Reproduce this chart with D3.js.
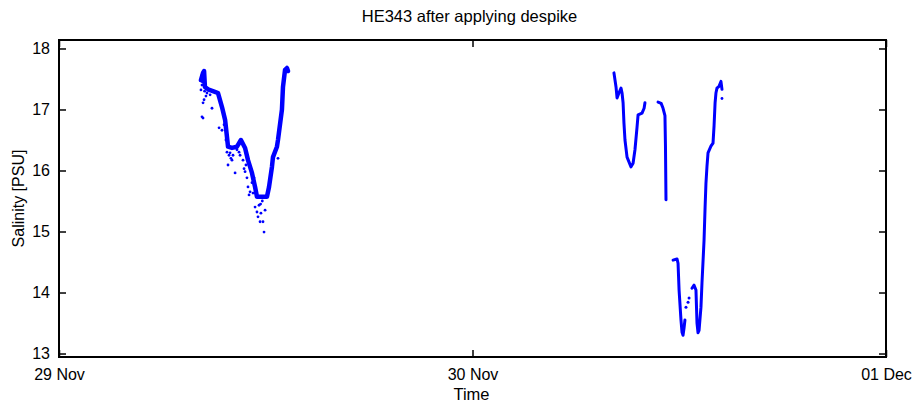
<!DOCTYPE html>
<html>
<head>
<meta charset="utf-8">
<script src="https://cdn.jsdelivr.net/npm/d3@7"></script>
<style>
  body { margin: 0; background: #fff; }
  text { font-family: "Liberation Sans", Arial, sans-serif; fill: #000; }
</style>
</head>
<body>
<svg id="chart" width="918" height="403"></svg>
<script>
// ---- data (hours after 29 Nov 00:00, salinity PSU) ----
const startDate = Date.UTC(2009, 10, 29);
const xTickDates = ["2009-11-29", "2009-11-30", "2009-12-01"];
const xTickLabels = ["29 Nov", "30 Nov", "01 Dec"];
const yTicks = [13, 14, 15, 16, 17, 18];

// first cluster main trace
const trace1Hours = [8.24, 8.36, 8.42, 8.47, 8.65, 9.05, 9.23, 9.46, 9.64, 9.75, 9.81, 10.04, 10.33, 10.56, 10.80, 10.97, 11.20, 11.38, 11.49, 11.78, 12.07, 12.19, 12.36, 12.42, 12.65, 12.71, 12.94, 13.00, 13.12, 13.23, 13.29];
const trace1Sal   = [17.48, 17.60, 17.63, 17.37, 17.33, 17.29, 17.27, 17.04, 16.83, 16.55, 16.39, 16.37, 16.39, 16.50, 16.37, 16.17, 15.96, 15.73, 15.57, 15.57, 15.57, 15.73, 16.06, 16.22, 16.39, 16.50, 17.00, 17.37, 17.65, 17.68, 17.63];

// first cluster scattered samples
const spikeHours = [8.30, 8.36, 8.36, 8.42, 8.53, 8.88, 9.29, 9.46, 9.81, 9.93, 10.04, 10.22, 10.33, 10.80, 10.91, 10.97, 11.09, 11.20, 11.26, 11.38, 11.49, 11.55, 11.67, 11.84, 11.90, 11.96, 12.71, 10.68, 10.85, 11.14, 11.32, 10.51, 10.74, 11.03, 11.61, 11.72, 9.69, 9.58, 8.77, 8.59, 8.30, 8.24, 9.87, 10.10, 8.27, 8.33, 8.45, 9.75, 9.98, 10.45, 11.70, 11.80];
const spikeSal   = [16.88, 16.86, 17.11, 17.16, 17.22, 17.02, 16.70, 16.66, 16.09, 16.29, 16.17, 15.96, 16.34, 15.98, 15.88, 15.73, 15.65, 15.80, 15.63, 15.40, 15.32, 15.24, 15.16, 15.16, 14.99, 15.35, 16.20, 16.17, 16.09, 16.01, 15.88, 16.25, 16.03, 15.60, 15.43, 15.30, 16.50, 16.75, 17.24, 17.27, 17.40, 17.32, 16.25, 16.25, 17.55, 17.45, 17.30, 16.30, 16.20, 16.30, 15.45, 15.50];

// second cluster segments
const segAHours = [32.21, 32.33, 32.39, 32.50, 32.62, 32.68, 32.74, 32.79, 32.85, 32.97, 33.20, 33.32, 33.43, 33.55, 33.61, 33.84, 33.96, 34.01];
const segASal   = [17.60, 17.37, 17.19, 17.27, 17.35, 17.27, 17.11, 16.78, 16.50, 16.22, 16.06, 16.12, 16.34, 16.71, 16.91, 16.94, 17.02, 17.11];
const segBHours = [34.77, 34.95, 35.06, 35.17, 35.20, 35.23];
const segBSal   = [17.12, 17.10, 17.02, 16.90, 16.40, 15.52];
const segCHours = [35.64, 35.87, 35.93, 35.99, 36.10, 36.16, 36.22, 36.28, 36.33];
const segCSal   = [14.53, 14.55, 14.48, 14.04, 13.55, 13.35, 13.30, 13.42, 13.55];
const dotsCHours = [36.39, 36.51, 36.57];
const dotsCSal   = [13.76, 13.84, 13.91];
const segDHours = [36.74, 36.86, 36.97, 37.03, 37.09, 37.15, 37.26, 37.32, 37.44, 37.50, 37.55, 37.61, 37.67, 37.84, 37.96, 38.02, 38.08, 38.13, 38.19, 38.31, 38.42, 38.48];
const segDSal   = [14.07, 14.12, 14.04, 13.50, 13.34, 13.38, 13.76, 14.16, 14.86, 15.40, 15.79, 16.07, 16.29, 16.40, 16.45, 16.73, 17.11, 17.27, 17.35, 17.38, 17.46, 17.33];
const endDotHours = [38.48];
const endDotSal = [17.18];

// ---- layout ----
const svg = d3.select("#chart");
const L = 59, R = 886, T = 40, B = 357;
const toDate = h => new Date(startDate + h * 3600 * 1000);

const x = d3.scaleUtc()
  .domain([new Date(xTickDates[0]), new Date(xTickDates[2])])
  .range([L, R]);
const y = d3.scaleLinear().domain([12.943, 18.139]).range([B, T]);

const zip = (hs, ss) => hs.map((h, i) => ({ t: toDate(h), s: ss[i] }));
const line = d3.line().x(d => x(d.t)).y(d => y(d.s)).curve(d3.curveLinear);

const g = svg.append("g");
const blue = "#0000ff";

function drawLine(hs, ss, w) {
  g.append("path").datum(zip(hs, ss))
    .attr("d", line).attr("fill", "none").attr("stroke", blue)
    .attr("stroke-width", w).attr("stroke-linejoin", "round").attr("stroke-linecap", "round");
}
function drawDots(hs, ss, r) {
  g.selectAll(null).data(zip(hs, ss)).enter().append("circle")
    .attr("cx", d => x(d.t)).attr("cy", d => y(d.s)).attr("r", r).attr("fill", blue);
}

drawLine(trace1Hours, trace1Sal, 4.5);
drawDots(spikeHours, spikeSal, 1.4);
drawLine(segAHours, segASal, 3);
drawLine(segBHours, segBSal, 3);
drawLine(segCHours, segCSal, 3);
drawDots(dotsCHours, dotsCSal, 1.5);
drawLine(segDHours, segDSal, 3);
drawDots(endDotHours, endDotSal, 1.4);

// ---- axes ----
const xTickVals = xTickDates.map(d => new Date(d));
const fmtX = (d, i) => xTickLabels[i];

const xb = svg.append("g").attr("transform", `translate(0,${B})`)
  .call(d3.axisBottom(x).tickValues(xTickVals).tickFormat(fmtX).tickSizeInner(-7).tickSizeOuter(0).tickPadding(12));
const xt = svg.append("g").attr("transform", `translate(0,${T})`)
  .call(d3.axisTop(x).tickValues(xTickVals).tickFormat("").tickSizeInner(-7).tickSizeOuter(0));
const yl = svg.append("g").attr("transform", `translate(${L},0)`)
  .call(d3.axisLeft(y).tickValues(yTicks).tickFormat(d3.format("d")).tickSizeInner(-7).tickSizeOuter(0).tickPadding(9));
const yr = svg.append("g").attr("transform", `translate(${R},0)`)
  .call(d3.axisRight(y).tickValues(yTicks).tickFormat("").tickSizeInner(-7).tickSizeOuter(0));

[xb, xt, yl, yr].forEach(a => {
  a.select(".domain").remove();
  a.selectAll(".tick line").attr("stroke", "#000").attr("stroke-width", 1.5);
  a.selectAll(".tick text").style("font-size", "16px").style("font-family", "Liberation Sans, Arial, sans-serif").attr("fill", "#000");
});

svg.append("rect").attr("x", L).attr("y", T).attr("width", R - L).attr("height", B - T)
  .attr("fill", "none").attr("stroke", "#000").attr("stroke-width", 2);

// ---- titles ----
svg.append("text").attr("x", (L + R) / 2 - 3).attr("y", 22).attr("text-anchor", "middle")
  .style("font-size", "16.5px").text("HE343 after applying despike");
svg.append("text").attr("x", (L + R) / 2 - 1).attr("y", 400).attr("text-anchor", "middle")
  .style("font-size", "16.5px").text("Time");
svg.append("text").attr("transform", `translate(24,${(T + B) / 2}) rotate(-90)`).attr("text-anchor", "middle")
  .style("font-size", "16px").text("Salinity [PSU]");
</script>
</body>
</html>
